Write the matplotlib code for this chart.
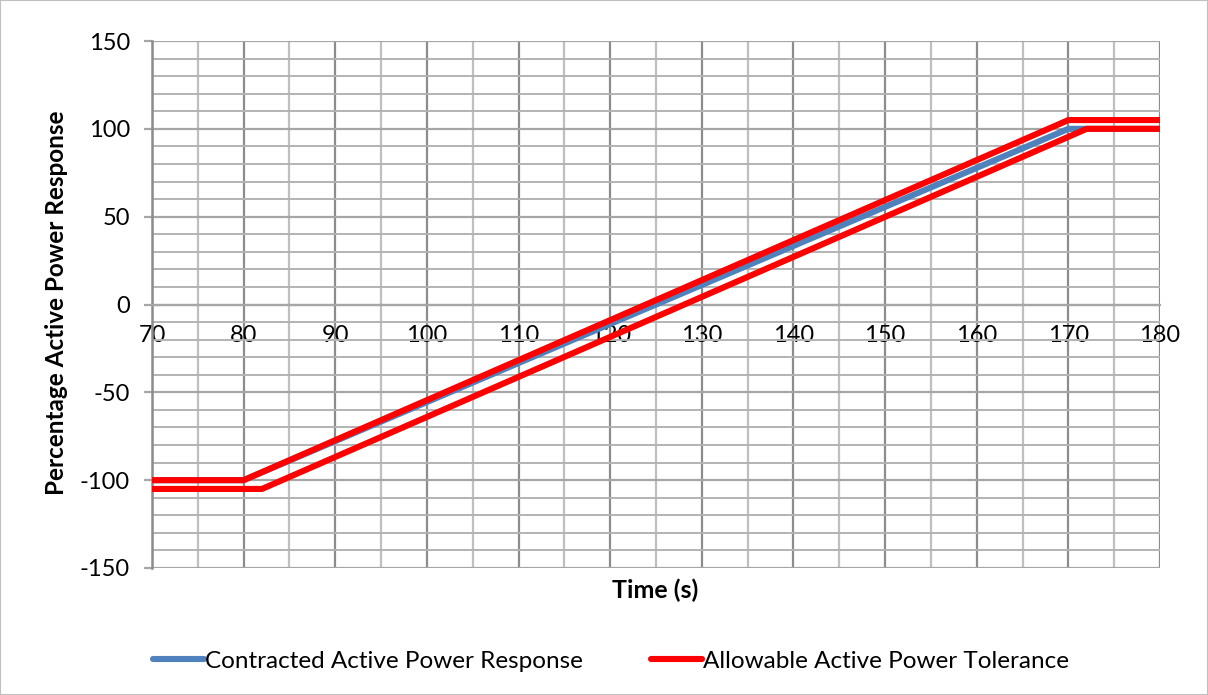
import matplotlib
matplotlib.use("Agg")
import matplotlib.pyplot as plt
from matplotlib.patches import Rectangle
from matplotlib.ticker import MultipleLocator

# Data
contracted_time = [70, 80, 170, 180]
contracted_power = [-100, -100, 100, 100]

upper_time = [70, 80, 170, 180]
upper_power = [-100, -100, 105, 105]

lower_time = [70, 82, 172, 180]
lower_power = [-105, -105, 100, 100]

x_ticks = [70, 80, 90, 100, 110, 120, 130, 140, 150, 160, 170, 180]
y_ticks = [-150, -100, -50, 0, 50, 100, 150]

plt.rcParams["font.family"] = ["Lato", "DejaVu Sans"]
plt.rcParams["axes.unicode_minus"] = False

W, H = 1208, 695
fig = plt.figure(figsize=(W / 100, H / 100), dpi=100)
ax = fig.add_axes([152 / W, 1 - 568 / H, (1160 - 152) / W, (568 - 41) / H])

ax.set_xlim(70, 180)
ax.set_ylim(-150, 150)
ax.set_xticks(x_ticks)
ax.set_yticks(y_ticks)
ax.xaxis.set_minor_locator(MultipleLocator(5))
ax.yaxis.set_minor_locator(MultipleLocator(10))

# grid (Excel style)
ax.grid(which="major", axis="x", color="#8c8c8c", lw=1.6, zorder=0)
ax.grid(which="minor", axis="x", color="#bfbfbf", lw=1.6, zorder=0)
ax.grid(which="major", axis="y", color="#a6a6a6", lw=1.6, zorder=0)
ax.grid(which="minor", axis="y", color="#b3b3b3", lw=1.4, zorder=0)
ax.set_axisbelow(True)

for s in ["top", "right"]:
    ax.spines[s].set_visible(False)
ax.spines["left"].set_color("#8c8c8c")
ax.spines["left"].set_linewidth(1.8)
ax.spines["bottom"].set_position(("data", 0))
ax.spines["bottom"].set_color("#a6a6a6")
ax.spines["bottom"].set_linewidth(1.6)

ax.tick_params(axis="y", which="major", direction="out", length=6, width=1.6,
               color="#a6a6a6", pad=10, labelsize=17)
ax.tick_params(axis="y", which="minor", length=0)
ax.tick_params(axis="x", which="both", length=0, pad=15, labelsize=17)

ax.plot(contracted_time, contracted_power, color="#4F81BD", lw=4.4,
        solid_capstyle="round", zorder=3, label="Contracted Active Power Response")
ax.plot(upper_time, upper_power, color="#FF0000", lw=4.4,
        solid_capstyle="round", zorder=4, label="Allowable Active Power Tolerance")
ax.plot(lower_time, lower_power, color="#FF0000", lw=4.4,
        solid_capstyle="round", zorder=4)

fig.text(57 / W, 1 - 303 / H, "Percentage Active Power Response", fontsize=17.5,
         fontweight="bold", rotation=90, ha="center", va="center")
fig.text(655 / W, 1 - 590 / H, "Time (s)", fontsize=18, fontweight="bold",
         ha="center", va="center")

fig.legend(loc="center", bbox_to_anchor=(611 / W, 1 - 661 / H), ncol=2,
           frameon=False, fontsize=17.5, handlelength=2.1, handletextpad=0.05,
           columnspacing=2.8)

fig.patches.append(Rectangle((0, 0), 1, 1, transform=fig.transFigure,
                             fill=False, edgecolor="#bfbfbf", lw=1.5))

fig.savefig("out.png", dpi=100)
